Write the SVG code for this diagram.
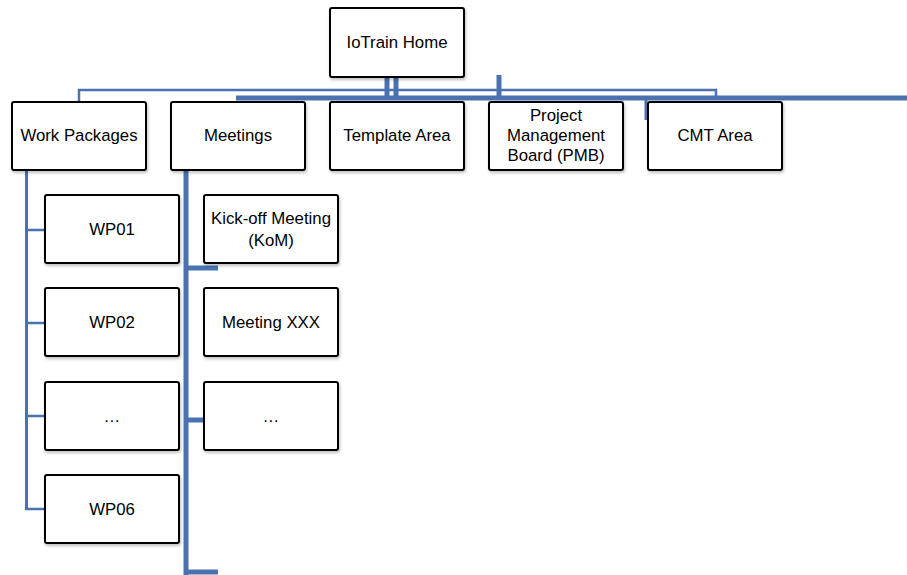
<svg xmlns="http://www.w3.org/2000/svg" width="907" height="575" viewBox="0 0 907 575">
<style>
.box{fill:#ffffff;stroke:#000000;stroke-width:2;filter:url(#sh)}
.t{font-family:"Liberation Sans",Arial,sans-serif;font-size:16.8px;fill:#000000;text-anchor:middle}
.c{fill:none;stroke:#4A72B0;stroke-linecap:butt}
.thin{stroke-width:2.5}
.thick{stroke-width:5}
.mid{stroke-width:3}
</style>
<defs>
<filter id="sh" x="-10%" y="-10%" width="125%" height="130%">
<feDropShadow dx="1" dy="2" stdDeviation="1.5" flood-color="#000000" flood-opacity="0.25"/>
</filter>
</defs>
<g id="connectors">
<path class="c thin" d="M79,102 V90 H716 V98"/>
<path class="c thick" d="M236,98 H907"/>
<path class="c thick" d="M387,77 V98"/>
<path class="c thick" d="M396,77 V98"/>
<path class="c thick" d="M499,75 V100"/>
<path class="c mid" d="M646,98 V120"/>
<path class="c mid" d="M26.5,170 V510"/>
<path class="c thin" d="M26.5,230 H45 M26.5,323 H45 M26.5,416 H45 M26.5,509 H45"/>
<path class="c thick" d="M186,170 V575"/>
<path class="c thick" d="M186,268 H218 M186,420 H204 M186,572 H218"/>
</g>
<g id="home"><rect class="box" x="330" y="8" width="134" height="69" rx="2"/><text class="t" x="397" y="48">IoTrain Home</text></g>
<g id="wp"><rect class="box" x="12" y="102" width="134" height="68" rx="2"/><text class="t" x="79" y="141">Work Packages</text></g>
<g id="meetings"><rect class="box" x="171" y="102" width="134" height="68" rx="2"/><text class="t" x="238" y="141">Meetings</text></g>
<g id="template"><rect class="box" x="330" y="102" width="134" height="68" rx="2"/><text class="t" x="397" y="141">Template Area</text></g>
<g id="pmb"><rect class="box" x="489" y="102" width="134" height="68" rx="2"/><text class="t" x="556" y="121">Project</text><text class="t" x="556" y="141">Management</text><text class="t" x="556" y="161">Board (PMB)</text></g>
<g id="cmt"><rect class="box" x="648" y="102" width="134" height="68" rx="2"/><text class="t" x="715" y="141">CMT Area</text></g>
<g id="wp01"><rect class="box" x="45" y="195" width="134" height="68" rx="2"/><text class="t" x="112" y="235">WP01</text></g>
<g id="wp02"><rect class="box" x="45" y="288" width="134" height="68" rx="2"/><text class="t" x="112" y="328">WP02</text></g>
<g id="wpdots"><rect class="box" x="45" y="382" width="134" height="68" rx="2"/><text class="t" x="112" y="422">…</text></g>
<g id="wp06"><rect class="box" x="45" y="475" width="134" height="68" rx="2"/><text class="t" x="112" y="515">WP06</text></g>
<g id="kom"><rect class="box" x="204" y="195" width="134" height="68" rx="2"/><text class="t" x="271" y="224">Kick-off Meeting</text><text class="t" x="271" y="246">(KoM)</text></g>
<g id="mxxx"><rect class="box" x="204" y="288" width="134" height="68" rx="2"/><text class="t" x="271" y="328">Meeting XXX</text></g>
<g id="mdots"><rect class="box" x="204" y="382" width="134" height="68" rx="2"/><text class="t" x="271" y="422">…</text></g>
</svg>
